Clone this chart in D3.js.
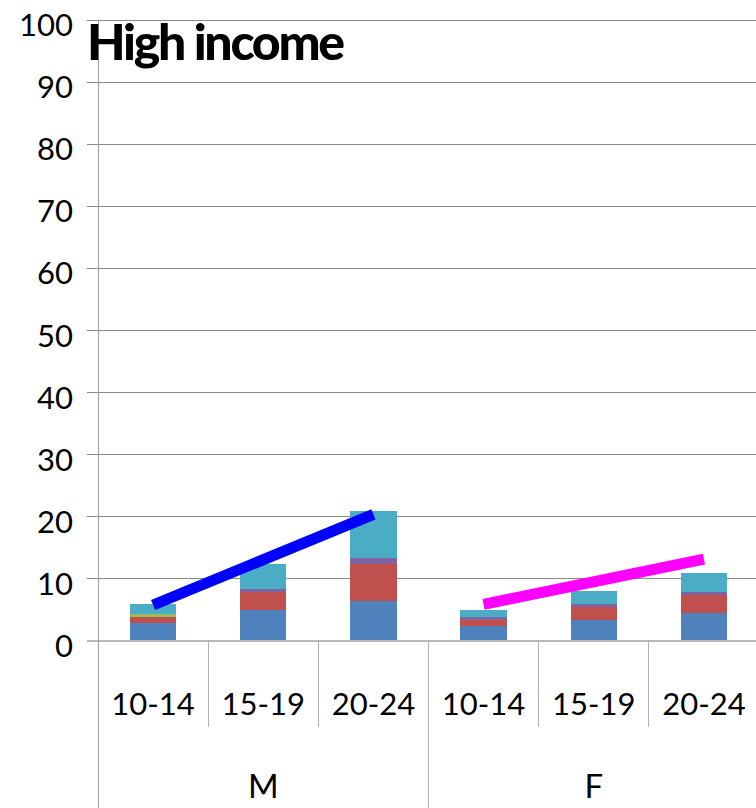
<!DOCTYPE html>
<html><head><meta charset="utf-8">
<script src="https://cdn.jsdelivr.net/npm/d3@7"></script>
<style>body{margin:0;background:#fff}svg{display:block}</style>
</head><body>
<script>
const categories = ["M|10-14","M|15-19","M|20-24","F|10-14","F|15-19","F|20-24"];
const ageLabels = ["10-14","15-19","20-24","10-14","15-19","20-24"];
const groups = ["M","F"];
const seriesNames = ["s1","s2","s3","s4","s5"];
const seriesColors = ["#4F81BD","#C0504D","#9BBB59","#8064A2","#4BACC6"];
const s1 = [2.85, 5.0, 6.45, 2.4, 3.4, 4.5];
const s2 = [1.0, 2.9, 6.0, 1.0, 2.0, 2.9];
const s3 = [0.5, 0, 0, 0, 0, 0];
const s4 = [0, 0.45, 0.9, 0.45, 0.55, 0.5];
const s5 = [1.6, 4.05, 7.55, 1.15, 2.1, 3.05];
const lineM = [{c:"M|10-14", v:5.8}, {c:"M|20-24", v:20.4}];
const lineF = [{c:"F|10-14", v:5.9}, {c:"F|20-24", v:13.2}];
const yTicks = [0,10,20,30,40,50,60,70,80,90,100];
const title = "High income";

const W = 756, H = 808;
const svg = d3.select("body").append("svg").attr("width", W).attr("height", H);
const font = "Lato, 'Open Sans', sans-serif";

const x = d3.scaleBand().domain(categories).range([98, 759]).paddingInner(0.58).paddingOuter(0.29);
const xs = d3.scaleBand().domain(categories).range([98, 759]);
const y = d3.scaleLinear().domain([0, 100]).range([641, 20]);

// gridlines
svg.append("g").selectAll("line").data(yTicks.filter(d => d > 0)).join("line")
  .attr("x1", 87).attr("x2", W).attr("y1", d => y(d)).attr("y2", d => y(d))
  .attr("stroke", "#8a8a8a").attr("stroke-width", 1).attr("shape-rendering", "crispEdges");

// y tick labels
svg.append("g").selectAll("text").data(yTicks).join("text")
  .attr("x", 73).attr("y", d => y(d) + 16).attr("text-anchor", "end")
  .attr("font-family", font).attr("font-size", 31).attr("fill", "#000").text(d => d);

// stacks
const data = categories.map((c, i) => ({c, s1: s1[i], s2: s2[i], s3: s3[i], s4: s4[i], s5: s5[i]}));
const stack = d3.stack().keys(seriesNames)(data);
svg.append("g").selectAll("g").data(stack).join("g").attr("fill", (d, i) => seriesColors[i])
  .selectAll("rect").data(d => d).join("rect")
  .attr("x", d => x(d.data.c)).attr("width", x.bandwidth())
  .attr("y", d => y(d[1])).attr("height", d => Math.max(0, y(d[0]) - y(d[1])))
  .attr("shape-rendering", "crispEdges");

// axes lines
svg.append("line").attr("x1", 87).attr("x2", W).attr("y1", 641).attr("y2", 641)
  .attr("stroke", "#b8b8b8").attr("stroke-width", 2);
svg.append("line").attr("x1", 98).attr("x2", 98).attr("y1", 20).attr("y2", H)
  .attr("stroke", "#a0a0a0").attr("stroke-width", 1).attr("shape-rendering", "crispEdges");

// category dividers
const bounds = categories.map(c => xs(c) + xs.bandwidth());
svg.append("g").selectAll("line").data(bounds.slice(0, 5)).join("line")
  .attr("x1", d => d).attr("x2", d => d)
  .attr("y1", 641).attr("y2", (d, i) => i === 2 ? H : 727)
  .attr("stroke", "#b0b0b0").attr("stroke-width", 1).attr("shape-rendering", "crispEdges");

// age labels
svg.append("g").selectAll("text").data(categories).join("text")
  .attr("x", d => xs(d) + xs.bandwidth() / 2).attr("y", 715)
  .attr("text-anchor", "middle")
  .attr("font-family", font).attr("font-size", 31).text((d, i) => ageLabels[i]);

// group labels
svg.append("g").selectAll("text").data(groups).join("text")
  .attr("x", (g, i) => (xs(categories[i * 3]) + xs(categories[i * 3 + 2]) + xs.bandwidth()) / 2)
  .attr("y", 798).attr("text-anchor", "middle")
  .attr("font-family", font).attr("font-size", 33).text(g => g);

// lines
const line = d3.line().x(d => x(d.c) + x.bandwidth() / 2).y(d => y(d.v));
svg.append("path").datum(lineM).attr("d", line).attr("stroke", "#0000FF").attr("stroke-width", 11).attr("fill", "none");
svg.append("path").datum(lineF).attr("d", line).attr("stroke", "#FF00FF").attr("stroke-width", 11).attr("fill", "none");

// title
svg.append("text").attr("x", 87).attr("y", 60).attr("font-family", font).attr("font-weight", 900)
  .attr("font-size", 50).attr("letter-spacing", -2.3).attr("fill", "#000").text(title);
</script>
</body></html>
